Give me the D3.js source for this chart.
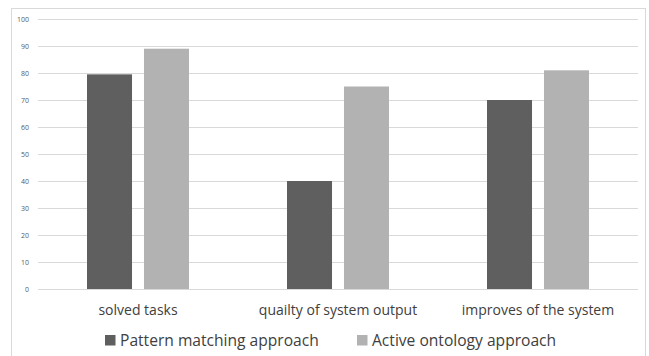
<!DOCTYPE html>
<html>
<head>
<meta charset="utf-8">
<script src="https://cdn.jsdelivr.net/npm/d3@7/dist/d3.min.js"></script>
<style>
  html, body { margin: 0; padding: 0; background: #fff; }
  svg { display: block; }
</style>
</head>
<body>
<svg id="chart" width="649" height="356"></svg>
<script>
// Survey results: two approaches compared across three criteria
const categories = ["solved tasks", "quailty of system output", "improves of the system"];
const seriesNames = ["Pattern matching approach", "Active ontology approach"];
const patternMatching = [79.5, 40, 70];
const activeOntology = [89, 75, 81];
const yTicks = [0, 10, 20, 30, 40, 50, 60, 70, 80, 90, 100];
const colors = ["#5f5f5f", "#b2b2b2"];

const svg = d3.select("#chart");
const fontFamily = "'Open Sans', 'Noto Sans', sans-serif";

// outer chart frame (bottom edge runs past the canvas)
svg.append("rect")
  .attr("x", 11.5).attr("y", 8.5)
  .attr("width", 634).attr("height", 360)
  .attr("fill", "#fff").attr("stroke", "#d9d9d9").attr("stroke-width", 1);

const plot = { left: 38, right: 638, top: 19, bottom: 289 };

const x0 = d3.scaleBand()
  .domain(categories)
  .range([plot.left, plot.right])
  .paddingInner(0).paddingOuter(0);

const bandInner = d3.scaleBand()
  .domain(seriesNames)
  .range([0, 102])
  .paddingInner(0.21);

const y = d3.scaleLinear().domain([0, 100]).range([plot.bottom, plot.top]);

// gridlines
svg.append("g")
  .selectAll("line")
  .data(yTicks)
  .join("line")
  .attr("x1", plot.left).attr("x2", plot.right)
  .attr("y1", d => Math.round(y(d)) + 0.5)
  .attr("y2", d => Math.round(y(d)) + 0.5)
  .attr("stroke", "#d9d9d9").attr("stroke-width", 1);

// y axis labels
const yAxis = d3.axisLeft(y).tickValues(yTicks).tickSize(0).tickPadding(0);
const yg = svg.append("g").attr("transform", `translate(${plot.left - 9},0)`).call(yAxis);
yg.select(".domain").remove();
yg.selectAll("text")
  .attr("font-family", fontFamily)
  .attr("font-size", 7)
  .attr("fill", "#595959");

// bars
const rows = categories.map((c, i) => ({
  category: c,
  values: [patternMatching[i], activeOntology[i]]
}));

const groups = svg.append("g")
  .selectAll("g")
  .data(rows)
  .join("g")
  .attr("transform", d => `translate(${x0(d.category) + x0.bandwidth() / 2 - 51},0)`);

groups.selectAll("rect")
  .data(d => d.values.map((v, j) => ({ name: seriesNames[j], value: v, j })))
  .join("rect")
  .attr("x", d => bandInner(d.name))
  .attr("y", d => y(d.value))
  .attr("width", bandInner.bandwidth())
  .attr("height", d => y(0) - y(d.value))
  .attr("fill", d => colors[d.j]);

// category labels
const xAxis = d3.axisBottom(x0).tickSize(0).tickPadding(0);
const xg = svg.append("g").attr("transform", `translate(0,${plot.bottom + 16})`).call(xAxis);
xg.select(".domain").remove();
xg.selectAll("text")
  .attr("font-family", fontFamily)
  .attr("font-size", 14)
  .attr("fill", "#404040");

// legend
const legendItems = [
  { name: seriesNames[0], color: colors[0], x: 105 },
  { name: seriesNames[1], color: colors[1], x: 357 }
];
const legend = svg.append("g");
const li = legend.selectAll("g").data(legendItems).join("g")
  .attr("transform", d => `translate(${d.x},0)`);
li.append("rect")
  .attr("x", 0).attr("y", 335)
  .attr("width", 10.5).attr("height", 10.5)
  .attr("fill", d => d.color);
li.append("text")
  .attr("x", 15).attr("y", 345.5)
  .attr("font-family", fontFamily)
  .attr("font-size", 15.6)
  .attr("fill", "#404040")
  .text(d => d.name);
</script>
</body>
</html>
